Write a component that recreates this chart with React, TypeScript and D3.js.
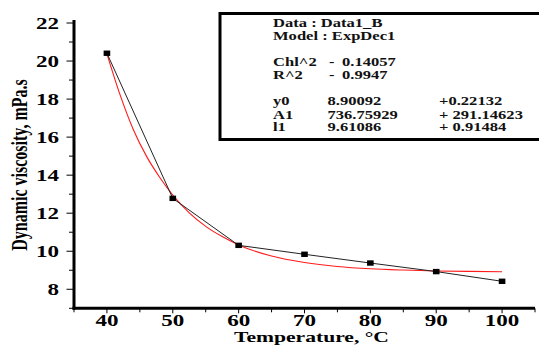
import React from "react";
import * as d3 from "d3";

// Measured data (temperature °C, dynamic viscosity mPa.s)
const temps = [40, 50, 60, 70, 80, 90, 100];
const viscosity = [20.41, 12.78, 10.31, 9.84, 9.38, 8.93, 8.42];

// Fitted ExpDec1 curve
const fitTemps = [40, 42, 44, 46, 48, 50, 52.5, 55, 57.5, 60, 65, 70, 75, 80, 85, 90, 95, 100];
const fitValues = [20.38, 18.22, 16.4, 15.0, 13.89, 12.95, 12.02, 11.31, 10.77, 10.33, 9.75, 9.41, 9.2, 9.08, 9.01, 8.96, 8.94, 8.92];

const xMajorTicks = [40, 50, 60, 70, 80, 90, 100];
const xMinorTicks = [35, 45, 55, 65, 75, 85, 95, 105];
const yMajorTicks = [8, 10, 12, 14, 16, 18, 20, 22];
const yMinorTicks = [7, 9, 11, 13, 15, 17, 19, 21];

const legendLines = [
  { label: "Data : Data1_B", dash: "", value: "", err: "" },
  { label: "Model : ExpDec1", dash: "", value: "", err: "" },
  { label: "Chl^2", dash: "-", value: "0.14057", err: "" },
  { label: "R^2", dash: "-", value: "0.9947", err: "" },
  { label: "y0", dash: "", value: "8.90092", err: "+0.22132" },
  { label: "A1", dash: "", value: "736.75929", err: "+ 291.14623" },
  { label: "l1", dash: "", value: "9.61086", err: "+ 0.91484" },
];
const legendBaselines = [27.3, 40, 66, 79.3, 105, 118.5, 130.7];

const FONT = "'Liberation Serif', 'Times New Roman', serif";
const SX = 1.44;

function StretchText(props: {
  x: number;
  y: number;
  size: number;
  anchor?: string;
  children: React.ReactNode;
  fill?: string;
  sx?: number;
}) {
  const { x, y, size, anchor = "start", children, fill = "#000", sx = SX } = props;
  return (
    <g transform={`translate(${x},${y}) scale(${sx},1)`}>
      <text
        x={0}
        y={0}
        fontFamily={FONT}
        fontWeight="bold"
        fontSize={size}
        textAnchor={anchor}
        fill={fill}
      >
        {children}
      </text>
    </g>
  );
}

export default function App() {
  const W = 539;
  const H = 345;
  const x = d3.scaleLinear().domain([35, 105]).range([74, 535]);
  const y = d3.scaleLinear().domain([7, 22]).range([308.3, 23]);

  const dataLine = d3
    .line<number>()
    .x((_, i) => x(temps[i]))
    .y((d) => y(d));
  const fitLine = d3
    .line<number>()
    .x((_, i) => x(fitTemps[i]))
    .y((d) => y(d))
    .curve(d3.curveMonotoneX);

  const axisX = x(35);
  const axisY = y(7);

  return (
    <svg
      width={W}
      height={H}
      style={{ position: "absolute", left: 0, top: 0, background: "#fff" }}
    >
      <rect x={0} y={0} width={W} height={H} fill="#fff" />

      {/* fit curve */}
      <path d={fitLine(fitValues) || ""} fill="none" stroke="#ff1a1a" strokeWidth={1.1} />
      {/* data line */}
      <path d={dataLine(viscosity) || ""} fill="none" stroke="#222" strokeWidth={1} />
      {viscosity.map((v, i) => (
        <rect
          key={i}
          x={x(temps[i]) - 3.3}
          y={y(v) - 2.7}
          width={6.6}
          height={5.4}
          fill="#000"
        />
      ))}

      {/* Y axis */}
      <line x1={axisX} x2={axisX} y1={20} y2={axisY + 1.5} stroke="#000" strokeWidth={3} />
      {yMajorTicks.map((t) => (
        <line key={"ym" + t} x1={axisX - 7.5} x2={axisX} y1={y(t)} y2={y(t)} stroke="#000" strokeWidth={1} />
      ))}
      {yMinorTicks.map((t) => (
        <line key={"yn" + t} x1={axisX - 5} x2={axisX} y1={y(t)} y2={y(t)} stroke="#000" strokeWidth={1} />
      ))}
      {yMajorTicks.map((t) => (
        <StretchText key={"yl" + t} x={59} y={y(t) + 5.5} size={16} anchor="end">
          {t}
        </StretchText>
      ))}

      {/* X axis */}
      <line x1={axisX - 1.5} x2={535} y1={axisY} y2={axisY} stroke="#000" strokeWidth={3} />
      {xMajorTicks.map((t) => (
        <line key={"xm" + t} x1={x(t)} x2={x(t)} y1={axisY} y2={axisY + 5} stroke="#000" strokeWidth={1} />
      ))}
      {xMinorTicks.map((t) => (
        <line key={"xn" + t} x1={x(t)} x2={x(t)} y1={axisY} y2={axisY + 4} stroke="#000" strokeWidth={1} />
      ))}
      {xMajorTicks.map((t) => (
        <StretchText key={"xl" + t} x={x(t)} y={325.5} size={16} anchor="middle">
          {t}
        </StretchText>
      ))}

      {/* Axis titles */}
      <StretchText x={311.5} y={341.8} size={14.6} anchor="middle" sx={1.48}>
        Temperature, °C
      </StretchText>
      <g transform={`translate(26.5,165) scale(${SX},1) rotate(-90)`}>
        <text
          x={0}
          y={0}
          fontFamily={FONT}
          fontWeight="bold"
          fontSize={16}
          textAnchor="middle"
          fill="#000"
        >
          Dynamic viscosity, mPa.s
        </text>
      </g>

      {/* Legend box */}
      <path d="M 545 13.5 L 220 13.5 L 220 139.5 L 545 139.5" fill="#fff" stroke="#000" strokeWidth={3} />
      {legendLines.map((l, i) => (
        <g key={"lg" + i}>
          <StretchText x={273} y={legendBaselines[i]} size={11.5} fill="#111">
            {l.label}
          </StretchText>
          {l.dash && (
            <StretchText x={329} y={legendBaselines[i]} size={11.5} fill="#111">
              {l.dash}
            </StretchText>
          )}
          {l.value && (
            <StretchText x={l.dash ? 342 : 327.5} y={legendBaselines[i]} size={11.5} fill="#111">
              {l.value}
            </StretchText>
          )}
          {l.err && (
            <StretchText x={439} y={legendBaselines[i]} size={11.5} fill="#111">
              {l.err}
            </StretchText>
          )}
        </g>
      ))}
    </svg>
  );
}
